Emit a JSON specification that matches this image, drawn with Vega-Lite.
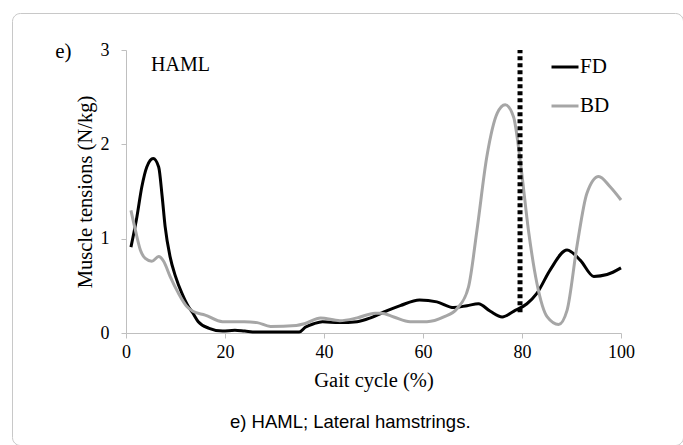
{
  "$schema": "https://vega.github.io/schema/vega-lite/v6.json",
  "width": 671,
  "height": 432,
  "autosize": {"type": "none"},
  "padding": {"left": 12, "top": 13, "right": 0, "bottom": 0},
  "background": "white",
  "config": {
    "view": {"stroke": "#c8c8c8", "strokeWidth": 1, "cornerRadius": 8},
    "axis": {
      "domainColor": "#bfbfbf", "tickColor": "#bfbfbf", "tickSize": 5, "grid": false,
      "labelFont": "Liberation Serif", "labelFontSize": 18, "labelColor": "#000000", "labelFlush": false,
      "titleFont": "Liberation Serif", "titleFontSize": 20.5, "titleFontWeight": "normal", "titleColor": "#000000"
    }
  },
  "datasets": {
    "curves": [
      {"x": 1, "v": 0.91, "s": "FD"}, {"x": 2.2, "v": 1.23, "s": "FD"}, {"x": 3.2, "v": 1.55, "s": "FD"},
      {"x": 4.2, "v": 1.76, "s": "FD"}, {"x": 5.5, "v": 1.85, "s": "FD"}, {"x": 6.6, "v": 1.76, "s": "FD"},
      {"x": 7.3, "v": 1.45, "s": "FD"}, {"x": 7.9, "v": 1.13, "s": "FD"}, {"x": 8.9, "v": 0.81, "s": "FD"},
      {"x": 10, "v": 0.6, "s": "FD"}, {"x": 11.3, "v": 0.42, "s": "FD"}, {"x": 12.6, "v": 0.28, "s": "FD"},
      {"x": 13.4, "v": 0.22, "s": "FD"}, {"x": 14.6, "v": 0.12, "s": "FD"}, {"x": 16.8, "v": 0.05, "s": "FD"},
      {"x": 19.5, "v": 0.02, "s": "FD"}, {"x": 22, "v": 0.03, "s": "FD"}, {"x": 24, "v": 0.02, "s": "FD"},
      {"x": 26.5, "v": 0.01, "s": "FD"}, {"x": 30, "v": 0.01, "s": "FD"}, {"x": 35, "v": 0.01, "s": "FD"},
      {"x": 36.2, "v": 0.06, "s": "FD"}, {"x": 38, "v": 0.1, "s": "FD"}, {"x": 39.7, "v": 0.12, "s": "FD"},
      {"x": 43, "v": 0.11, "s": "FD"}, {"x": 46.7, "v": 0.12, "s": "FD"}, {"x": 49.4, "v": 0.16, "s": "FD"},
      {"x": 52, "v": 0.22, "s": "FD"}, {"x": 55.4, "v": 0.29, "s": "FD"}, {"x": 59.3, "v": 0.35, "s": "FD"},
      {"x": 62.8, "v": 0.33, "s": "FD"}, {"x": 66.2, "v": 0.27, "s": "FD"}, {"x": 68.9, "v": 0.29, "s": "FD"},
      {"x": 71.2, "v": 0.31, "s": "FD"}, {"x": 73.6, "v": 0.23, "s": "FD"}, {"x": 76, "v": 0.17, "s": "FD"},
      {"x": 78.3, "v": 0.23, "s": "FD"}, {"x": 81, "v": 0.31, "s": "FD"}, {"x": 83, "v": 0.42, "s": "FD"},
      {"x": 85.7, "v": 0.67, "s": "FD"}, {"x": 89.1, "v": 0.88, "s": "FD"}, {"x": 91.8, "v": 0.77, "s": "FD"},
      {"x": 94.5, "v": 0.6, "s": "FD"}, {"x": 97.2, "v": 0.62, "s": "FD"}, {"x": 100, "v": 0.69, "s": "FD"},
      {"x": 1, "v": 1.3, "s": "BD"}, {"x": 1.9, "v": 1.09, "s": "BD"}, {"x": 2.9, "v": 0.88, "s": "BD"},
      {"x": 3.9, "v": 0.79, "s": "BD"}, {"x": 5.2, "v": 0.76, "s": "BD"}, {"x": 6.6, "v": 0.81, "s": "BD"},
      {"x": 7.6, "v": 0.76, "s": "BD"}, {"x": 8.9, "v": 0.6, "s": "BD"}, {"x": 10.6, "v": 0.42, "s": "BD"},
      {"x": 12.3, "v": 0.28, "s": "BD"}, {"x": 13.5, "v": 0.23, "s": "BD"}, {"x": 16, "v": 0.19, "s": "BD"},
      {"x": 19.5, "v": 0.12, "s": "BD"}, {"x": 23.9, "v": 0.12, "s": "BD"}, {"x": 26.5, "v": 0.11, "s": "BD"},
      {"x": 29.2, "v": 0.07, "s": "BD"}, {"x": 34.4, "v": 0.08, "s": "BD"}, {"x": 36.2, "v": 0.1, "s": "BD"},
      {"x": 39.3, "v": 0.16, "s": "BD"}, {"x": 43.2, "v": 0.13, "s": "BD"}, {"x": 46.7, "v": 0.16, "s": "BD"},
      {"x": 50.3, "v": 0.21, "s": "BD"}, {"x": 51.6, "v": 0.21, "s": "BD"}, {"x": 54.1, "v": 0.17, "s": "BD"},
      {"x": 57.4, "v": 0.12, "s": "BD"}, {"x": 60.8, "v": 0.12, "s": "BD"}, {"x": 64.2, "v": 0.17, "s": "BD"},
      {"x": 66.9, "v": 0.26, "s": "BD"}, {"x": 69.2, "v": 0.49, "s": "BD"}, {"x": 70.9, "v": 1.09, "s": "BD"},
      {"x": 72.9, "v": 1.87, "s": "BD"}, {"x": 75, "v": 2.33, "s": "BD"}, {"x": 76.6, "v": 2.42, "s": "BD"},
      {"x": 78.3, "v": 2.29, "s": "BD"}, {"x": 79.7, "v": 1.8, "s": "BD"}, {"x": 81.3, "v": 1.09, "s": "BD"},
      {"x": 83, "v": 0.53, "s": "BD"}, {"x": 85.1, "v": 0.17, "s": "BD"}, {"x": 87.4, "v": 0.09, "s": "BD"},
      {"x": 89.1, "v": 0.24, "s": "BD"}, {"x": 91.1, "v": 0.92, "s": "BD"}, {"x": 93.1, "v": 1.48, "s": "BD"},
      {"x": 95.5, "v": 1.66, "s": "BD"}, {"x": 97.8, "v": 1.55, "s": "BD"}, {"x": 100, "v": 1.41, "s": "BD"}
    ]
  },
  "encoding": {
    "x": {
      "type": "quantitative",
      "scale": {"domain": [0, 100], "range": [114, 609], "nice": false, "zero": false},
      "axis": {"values": [0, 20, 40, 60, 80, 100], "offset": -112, "title": "Gait cycle (%)", "labelPadding": 5, "titlePadding": 9}
    },
    "y": {
      "type": "quantitative",
      "scale": {"domain": [0, 3], "range": [320, 37], "nice": false, "zero": false},
      "axis": {"values": [0, 1, 2, 3], "offset": -114, "title": "Muscle tensions (N/kg)", "labelPadding": 12, "titlePadding": 5}
    }
  },
  "layer": [
    {
      "data": {"name": "curves"},
      "mark": {"type": "line", "strokeWidth": 3, "interpolate": "monotone"},
      "encoding": {
        "x": {"field": "x", "type": "quantitative"},
        "y": {"field": "v", "type": "quantitative"},
        "color": {
          "field": "s", "type": "nominal",
          "scale": {"domain": ["FD", "BD"], "range": ["#000000", "#a6a6a6"]},
          "sort": ["FD", "BD"],
          "legend": {
            "orient": "none", "legendX": 538, "legendY": 39, "title": null,
            "symbolType": "stroke", "symbolSize": 729, "symbolStrokeWidth": 3,
            "labelFont": "Liberation Serif", "labelFontSize": 21, "labelColor": "#000000",
            "labelOffset": 0, "rowPadding": 14, "padding": 0
          }
        }
      }
    },
    {
      "data": {"values": [{}]},
      "mark": {"type": "rule", "strokeWidth": 5, "strokeDash": [4, 3], "color": "#000000"},
      "encoding": {"x": {"datum": 79.6}, "y": {"datum": 0.22}, "y2": {"datum": 3}}
    },
    {
      "data": {"values": [{}]},
      "mark": {"type": "text", "text": "HAML", "font": "Liberation Serif", "fontSize": 20, "align": "left", "baseline": "middle", "color": "#000000"},
      "encoding": {"x": {"datum": 5.05}, "y": {"datum": 2.837}}
    },
    {
      "data": {"values": [{}]},
      "mark": {"type": "text", "text": "e)", "font": "Liberation Serif", "fontSize": 21, "align": "left", "baseline": "middle", "color": "#000000"},
      "encoding": {"x": {"datum": -14.3}, "y": {"datum": 2.98}}
    },
    {
      "data": {"values": [{}]},
      "mark": {"type": "text", "text": "e) HAML; Lateral hamstrings.", "font": "Liberation Sans", "fontSize": 18.5, "align": "center", "baseline": "middle", "color": "#000000"},
      "encoding": {"x": {"datum": 45.3}, "y": {"datum": -0.944}}
    }
  ]
}
